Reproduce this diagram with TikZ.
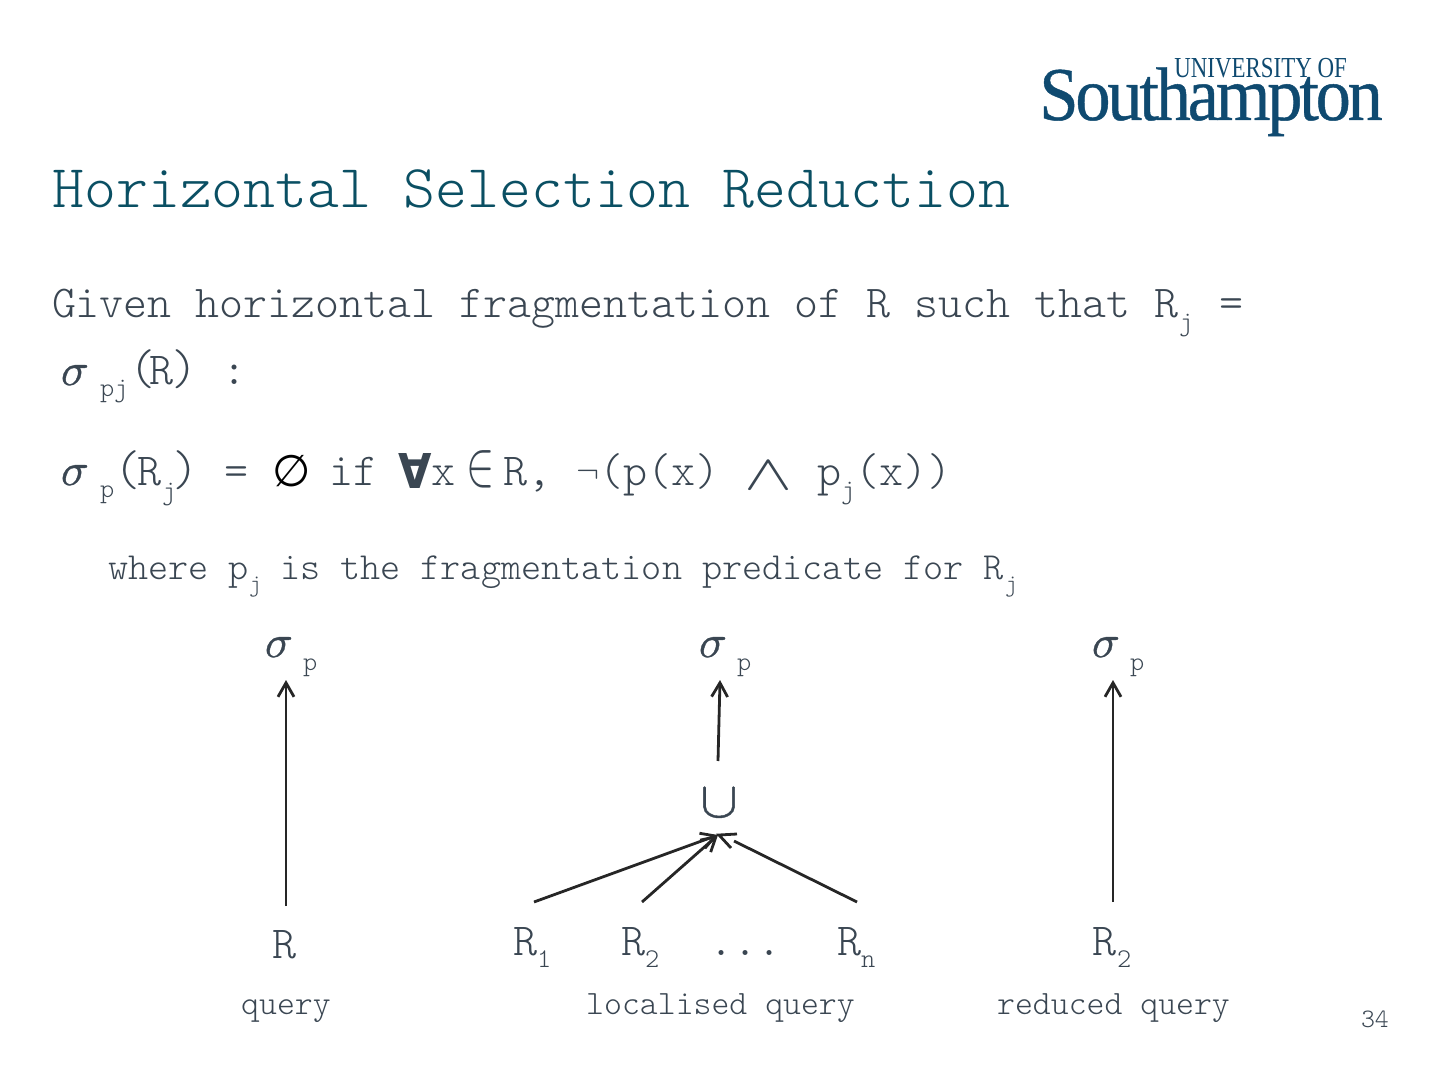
\documentclass[tikz,border=0pt]{standalone}
\usepackage{graphicx}
\usepackage{fontspec}
\setmonofont{Latin Modern Mono Light}
\newfontfamily\logofont{Liberation Serif}
\newfontfamily\logotight[LetterSpace=-4.5,FakeBold=0.6]{Liberation Serif}
\newfontfamily\symfont{DejaVu Sans}
\newfontfamily\lmmthick[FakeBold=0.8]{Latin Modern Math}
\usetikzlibrary{arrows.meta}
\definecolor{ink}{HTML}{3A4652}
\definecolor{titlec}{HTML}{0A4F63}
\definecolor{logoc}{HTML}{0F4A70}
\tikzset{
  tx/.style={anchor=base west,inner sep=0pt,outer sep=0pt,text=ink,font=\ttfamily\fontsize{#1}{#1}\selectfont},
  ctx/.style={anchor=base,inner sep=0pt,outer sep=0pt,text=ink,font=\ttfamily\fontsize{#1}{#1}\selectfont},
  sg/.style={anchor=base west,inner sep=0pt,outer sep=0pt,text=ink,font=\lmmthick\fontsize{23}{23}\selectfont},
  sym/.style={anchor=base west,inner sep=0pt,outer sep=0pt,text=ink,font=\fontsize{#1}{#1}\selectfont},
  arr/.style={draw=black!85,line width=1.4pt,-{Straight Barb[length=7pt,width=8pt,line width=1.4pt]}},
  arrt/.style={draw=black!85,line width=1pt,-{Straight Barb[length=7pt,width=8pt,line width=1.4pt]}},
  ln/.style={draw=black!85,line width=1.4pt}
}
\begin{document}
\begin{tikzpicture}[x=0.5pt,y=-0.5pt]
\useasboundingbox (0,0) rectangle (1440,1080);
% logo
\node[anchor=base west,inner sep=0,text=logoc,font=\logofont\fontsize{14.5}{14.5}\selectfont] (uni) at (1174,78) {\scalebox{.79}[1]{UNIVERSITY OF}};
\node[anchor=base west,inner sep=0,text=logoc,font=\logotight\fontsize{38}{38}\selectfont] (sot) at (1039,120) {\scalebox{.925}[1]{Southampton}};
% title
\node[anchor=base west,inner sep=0,text=titlec,font=\ttfamily\fontsize{30.4}{30.4}\selectfont] (title) at (52,208) {Horizontal Selection Reduction};
% line 1
\node[tx=22.82] (l1) at (52,318) {Given horizontal fragmentation of R such that R};
\node[tx=13.5] (l1j) at (1179,331) {j};
\node[tx=22.9] (l1e) at (1219,318) {=};
% line 2
\node[sg] (s2) at (61,385) {𝜎};
\node[tx=13.5] (s2p) at (100,397) {pj};
\node[tx=25] (s2o) at (129,385) {(};
\node[tx=22.9] (s2r) at (149,385) {R};
\node[tx=25] (s2b) at (171,385) {)};
\node[tx=22.9] (s2c) at (222,385) {:};
% line 3
\node[sg] (s3) at (61,485) {𝜎};
\node[tx=13.5] (s3p) at (100,497) {p};
\node[tx=25] (s3r) at (114,485) {(};
\node[tx=22.9] (s3R) at (137,485) {R};
\node[tx=13.5] (s3j) at (162,499) {j};
\node[tx=25] (s3b) at (172,485) {)};
\node[tx=22.9] (s3e) at (224,485) {=};
\node[anchor=base west,inner sep=0,text=black,font=\symfont\fontsize{22}{22}\selectfont] (emp) at (272,487) {∅};
\node[tx=22.9] (s3if) at (329,485) {if};
\node[anchor=base west,inner sep=0,text=ink,font=\symfont\bfseries\fontsize{24}{24}\selectfont] (fa) at (398,488) {\scalebox{.9}[1]{∀}};
\node[tx=22.9] (s3x) at (431,485) {x};
\node[sym=23] (s3in) at (466,486) {\scalebox{.85}[1.3]{$\in$}};
\node[tx=22.9] (s3Rb) at (503,485) {R,};
\node[sym=19] (s3n) at (576,482) {$\neg$};
\node[tx=22.9] (s3p2) at (599,485) {(p(x)};
\node[sym=30] (s3w) at (744,489) {\scalebox{1.45}[1]{$\wedge$}};
\node[tx=22.9] (s3p3) at (817,485) {p};
\node[tx=13.5] (s3j2) at (841,498) {j};
\node[tx=22.9] (s3x2) at (855,485) {(x))};
% where line
\node[tx=19.15] (w1) at (108,579) {where p};
\node[tx=12] (w1j) at (249,591) {j};
\node[tx=19.15] (w2) at (280,579) {is the fragmentation predicate for R};
\node[tx=12] (w2j) at (1005,591) {j};
% diagram
\node[sg] (a1) at (265,657) {𝜎};
\node[tx=13.5] (a1p) at (303,670) {p};
\node[sg] (a2) at (699,657) {𝜎};
\node[tx=13.5] (a2p) at (737,670) {p};
\node[sg] (a3) at (1092,657) {𝜎};
\node[tx=13.5] (a3p) at (1130,670) {p};
\node[anchor=base,inner sep=0,text=ink,font=\lmmthick\fontsize{30}{30}\selectfont] (cup) at (719,817) {\scalebox{.95}[.84]{∪}};
\node[ctx=22.9] (r) at (285,958) {R};
\node[tx=22.9] (r1) at (513,955) {R};
\node[tx=13.5] (r1s) at (537,967) {1};
\node[tx=22.9] (r2) at (621,955) {R};
\node[tx=13.5] (r2s) at (645,967) {2};
\node[tx=22.9] (dots) at (709,955) {...};
\node[tx=22.9] (rn) at (837,955) {R};
\node[tx=13.5] (rns) at (861,967) {n};
\node[tx=22.9] (rr) at (1092,955) {R};
\node[tx=13.5] (rrs) at (1117,967) {2};
\node[ctx=17.05] (q1) at (286,1014) {query};
\node[ctx=17.05] (q2) at (720.5,1014) {localised query};
\node[ctx=17.05] (q3) at (1113.5,1014) {reduced query};
\node[tx=13.3] (pg) at (1361,1027) {34};
% connectors
\draw[arr] ([shift={(1,-52)}]r.base) -- ([shift={(21,23)}]a1.base west);
\draw[arr] ([shift={(-1,-56)}]cup.base) -- ([shift={(21,23)}]a2.base west);
\draw[arrt] ([shift={(21,-53)}]rr.base west) -- ([shift={(21,23)}]a3.base west);
\draw[arr] ([shift={(21,-53)}]r1.base west) -- ([shift={(-1,18)}]cup.base);
\draw[arr] ([shift={(21,-53)}]r2.base west) -- ([shift={(-1,18)}]cup.base);
\draw[ln] ([shift={(20,-53)}]rn.base west) -- ([shift={(15,24)}]cup.base);
\draw[ln] ([shift={(18,17)}]cup.base) -- ([shift={(0,18)}]cup.base) -- ([shift={(12,31)}]cup.base);
\end{tikzpicture}
\end{document}
